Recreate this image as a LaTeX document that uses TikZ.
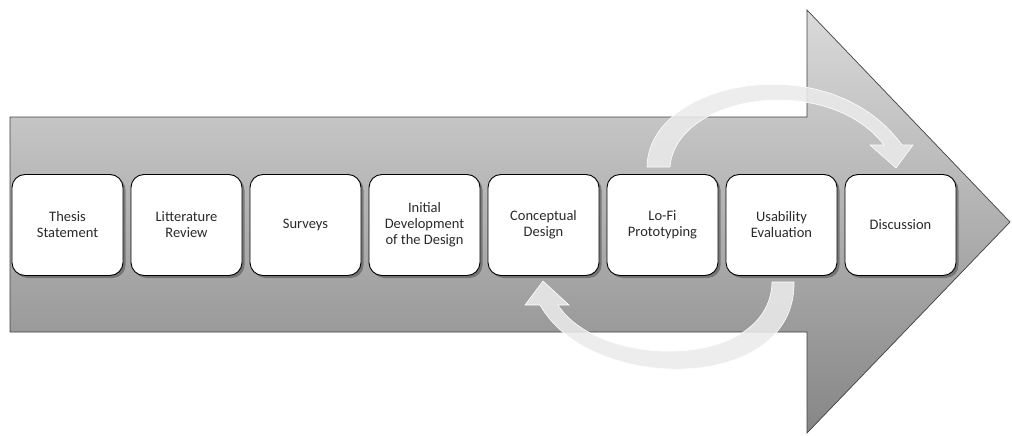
\documentclass[tikz,border=0pt]{standalone}
\usepackage{fontspec}
\setmainfont{Carlito}
\usetikzlibrary{shadows}
\definecolor{txt}{HTML}{2A2A2A}
\definecolor{shtop}{HTML}{DADADA}
\definecolor{shbot}{HTML}{868686}
\definecolor{curvefill}{HTML}{EAEAEA}
\tikzset{
  stepbox/.style={draw=black, line width=0.9pt, fill=white, rounded corners=13pt,
    minimum width=111pt, minimum height=101pt, align=center, text=txt,
    font=\fontsize{14.5}{16}\selectfont,
    drop shadow={shadow xshift=2.5pt, shadow yshift=-2.5pt, opacity=0.55, fill=black!70}},
  bigarrow/.style={draw=black!75, line width=0.7pt, top color=shtop, bottom color=shbot},
  curvearrow/.style={fill=curvefill, fill opacity=0.88, draw=white, line width=0.6pt}
}
\begin{document}
\begin{tikzpicture}[x=1pt,y=-1pt]
\useasboundingbox (0,0) rectangle (1012,436);
\path[bigarrow] (10,117) -- (807,117) -- (807,10) -- (1010,222) -- (807,433) -- (807,332) -- (10,332) -- cycle;
\node[stepbox] (b1) at (67.5,225) {Thesis\\Statement};
\node[stepbox] (b2) at (186.5,225) {Litterature\\Review};
\node[stepbox] (b3) at (305.5,225) {Surveys};
\node[stepbox] (b4) at (424.5,225) {Initial\\Development\\of the Design};
\node[stepbox] (b5) at (543.5,225) {Conceptual\\Design};
\node[stepbox] (b6) at (662.5,225) {Lo-Fi\\Prototyping};
\node[stepbox] (b7) at (781.5,225) {Usability\\Evaluation};
\node[stepbox] (b8) at (900.5,225) {Discussion};
% upper curved arrow: Lo-Fi Prototyping -> Discussion
\path[curvearrow] (647,167) .. controls (648,80) and (830,45) .. (902,145)
  -- (913,145) -- (896,168) -- (870,145) -- (884,145)
  .. controls (828,72) and (676,94) .. (670,167) -- cycle;
% lower curved arrow: Usability Evaluation -> Conceptual Design
\path[curvearrow] (794,282) .. controls (796,394) and (590,394) .. (540,305)
  -- (525,305) -- (543,281) -- (569,305) -- (558,305)
  .. controls (600,370) and (770,370) .. (772,282) -- cycle;
\end{tikzpicture}
\end{document}
